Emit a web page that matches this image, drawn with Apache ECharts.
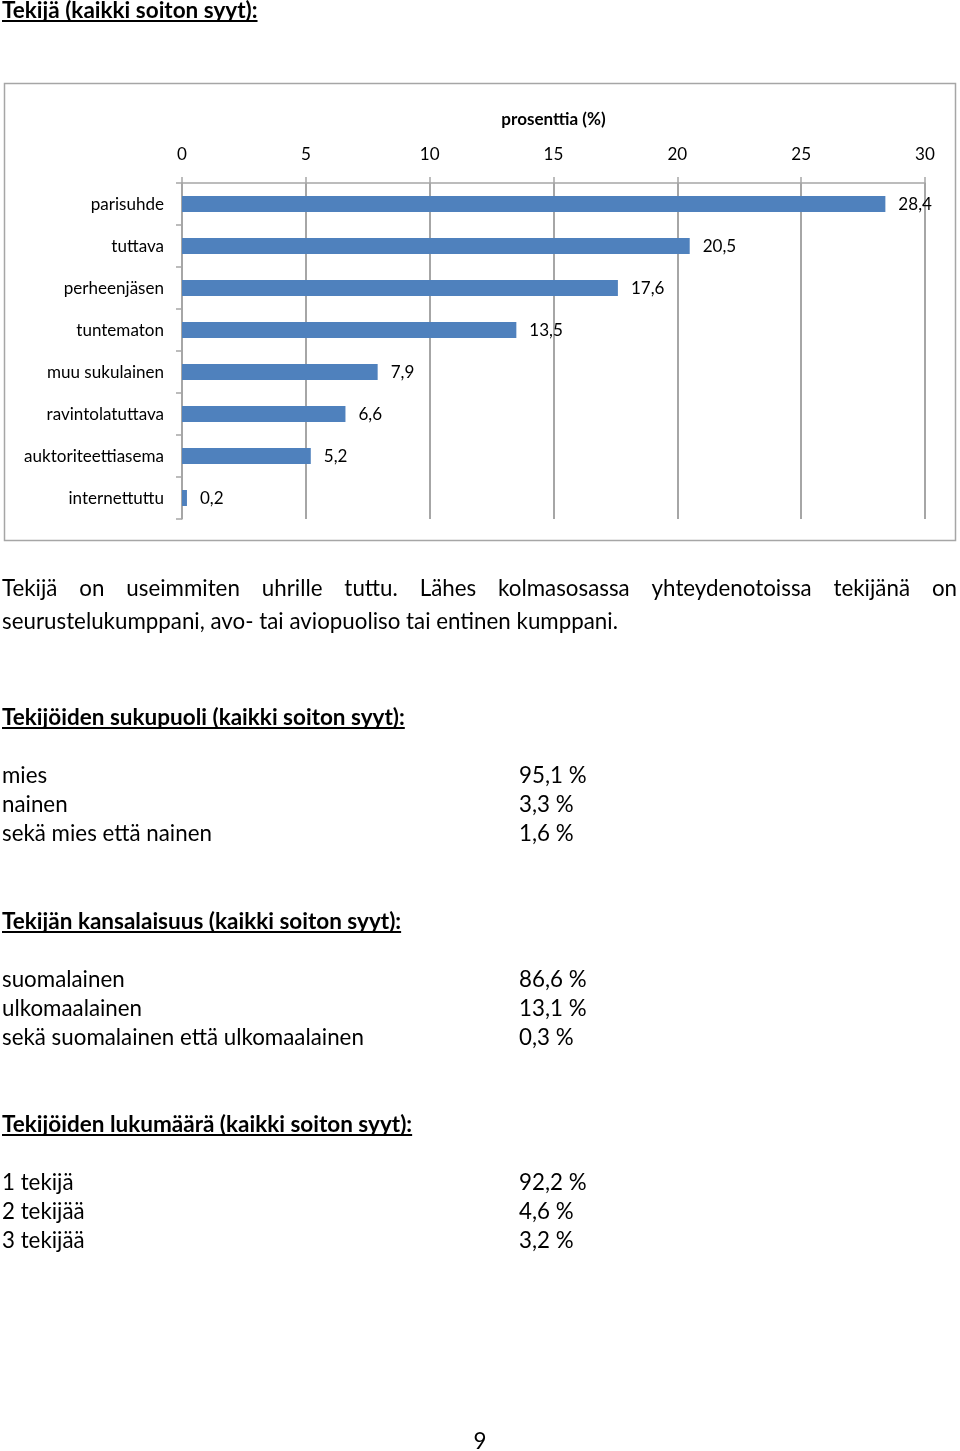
<!DOCTYPE html>
<html><head><meta charset="utf-8">
<script src="https://cdn.jsdelivr.net/npm/echarts@6/dist/echarts.min.js"></script>
<style>html,body{margin:0;padding:0;background:#fff}#c{width:960px;height:1451px}</style>
</head><body><div id="c"></div>
<script>
// ---- data ----
const categories = ['parisuhde','tuttava','perheenjäsen','tuntematon','muu sukulainen','ravintolatuttava','auktoriteettiasema','internettuttu'];
const values = [28.4, 20.5, 17.6, 13.5, 7.9, 6.6, 5.2, 0.2];
const xTicks = [0, 5, 10, 15, 20, 25, 30];
const axisTitle = 'prosenttia (%)';
const pageTitle = 'Tekijä (kaikki soiton syyt):';
const paraLine1 = 'Tekijä on useimmiten uhrille tuttu. Lähes kolmasosassa yhteydenotoissa tekijänä on';
const paraLine2 = 'seurustelukumppani, avo- tai aviopuoliso tai entinen kumppani.';
const sexTitle = 'Tekijöiden sukupuoli (kaikki soiton syyt):';
const sexLabels = ['mies', 'nainen', 'sekä mies että nainen'];
const sexValues = ['95,1 %', '3,3 %', '1,6 %'];
const natTitle = 'Tekijän kansalaisuus (kaikki soiton syyt):';
const natLabels = ['suomalainen', 'ulkomaalainen', 'sekä suomalainen että ulkomaalainen'];
const natValues = ['86,6 %', '13,1 %', '0,3 %'];
const cntTitle = 'Tekijöiden lukumäärä (kaikki soiton syyt):';
const cntLabels = ['1 tekijä', '2 tekijää', '3 tekijää'];
const cntValues = ['92,2 %', '4,6 %', '3,2 %'];
const pageNumber = '9';

// ---- text measuring / fitting ----
const FAM = 'Lato';
const mctx = document.createElement('canvas').getContext('2d');
function tw(text, size, bold) { mctx.font = (bold ? 'bold ' : '') + size + 'px ' + FAM; return mctx.measureText(text).width; }
function fit(text, target, bold) { return 100 * target / tw(text, 100, bold); }
const bodySize = fit(paraLine2, 616, false);
const headSize = fit(sexTitle, 403, true);
const labSize = fit('auktoriteettiasema', 140, false);

const graphics = [];
function txt(text, x, y, size, bold, align) {
  graphics.push({ type: 'text', x: x, y: y, silent: true,
    style: { text: text, font: (bold ? 'bold ' : '') + size + 'px ' + FAM, fill: '#000',
      textAlign: align || 'left', textVerticalAlign: 'middle' } });
}
function heading(text, y) {
  txt(text, 2, y, headSize, true);
  const w = tw(text, headSize, true);
  graphics.push({ type: 'line', silent: true, shape: { x1: 2, y1: y + 10, x2: 2 + w, y2: y + 10 },
    style: { stroke: '#000', lineWidth: 2 } });
}
heading(pageTitle, 11);
// justified first line
(function () {
  const words = paraLine1.split(' ');
  const widths = words.map(w => tw(w, bodySize, false));
  const total = widths.reduce((a, b) => a + b, 0);
  const gap = (957 - 2 - total) / (words.length - 1);
  let x = 2;
  words.forEach((w, i) => { txt(w, x, 589, bodySize, false); x += widths[i] + gap; });
})();
txt(paraLine2, 2, 622, bodySize, false);
function table(title, ty, labels, vals) {
  heading(title, ty);
  labels.forEach((l, i) => {
    txt(l, 2, ty + 58 + i * 29, bodySize, false);
    txt(vals[i], 519, ty + 58 + i * 29, bodySize, false);
  });
}
table(sexTitle, 718, sexLabels, sexValues);
table(natTitle, 922, natLabels, natValues);
table(cntTitle, 1125, cntLabels, cntValues);
txt(pageNumber, 480, 1442, bodySize, false, 'center');
// chart frame
graphics.push({ type: 'rect', silent: true, z: -1, shape: { x: 4.5, y: 83.5, width: 951, height: 457 },
  style: { fill: 'none', stroke: '#a6a6a6', lineWidth: 1.5 } });

const gray = '#a6a6a6';
const chart = echarts.init(document.getElementById('c'), null, { renderer: 'canvas' });
chart.setOption({
  animation: false,
  backgroundColor: '#fff',
  grid: { left: 182, right: 35, top: 183, height: 336, containLabel: false },
  xAxis: {
    type: 'value', position: 'top', min: xTicks[0], max: xTicks[xTicks.length - 1], interval: xTicks[1] - xTicks[0],
    name: axisTitle, nameLocation: 'middle', nameGap: 55,
    nameTextStyle: { fontFamily: FAM, fontWeight: 'bold', fontSize: labSize, color: '#000' },
    axisLine: { show: true, lineStyle: { color: gray, width: 1.5 } },
    axisTick: { show: true, length: 6, lineStyle: { color: gray, width: 1.5 } },
    axisLabel: { margin: 20, fontFamily: FAM, fontSize: labSize, color: '#000' },
    splitLine: { show: true, lineStyle: { color: gray, width: 2 } }
  },
  yAxis: {
    type: 'category', data: categories, inverse: true,
    axisLine: { show: true, lineStyle: { color: gray, width: 1.5 } },
    axisTick: { show: true, length: 6, lineStyle: { color: gray, width: 1.5 } },
    axisLabel: { margin: 18, fontFamily: FAM, fontSize: labSize, color: '#000' },
    splitLine: { show: false }
  },
  series: [{
    type: 'bar', data: values, barWidth: 16,
    itemStyle: { color: '#4f81bd' },
    label: { show: true, position: 'right', distance: 13, fontFamily: FAM, fontSize: labSize, color: '#000',
      formatter: p => String(p.value).replace('.', ',') }
  }],
  graphic: graphics
});
</script></body></html>
